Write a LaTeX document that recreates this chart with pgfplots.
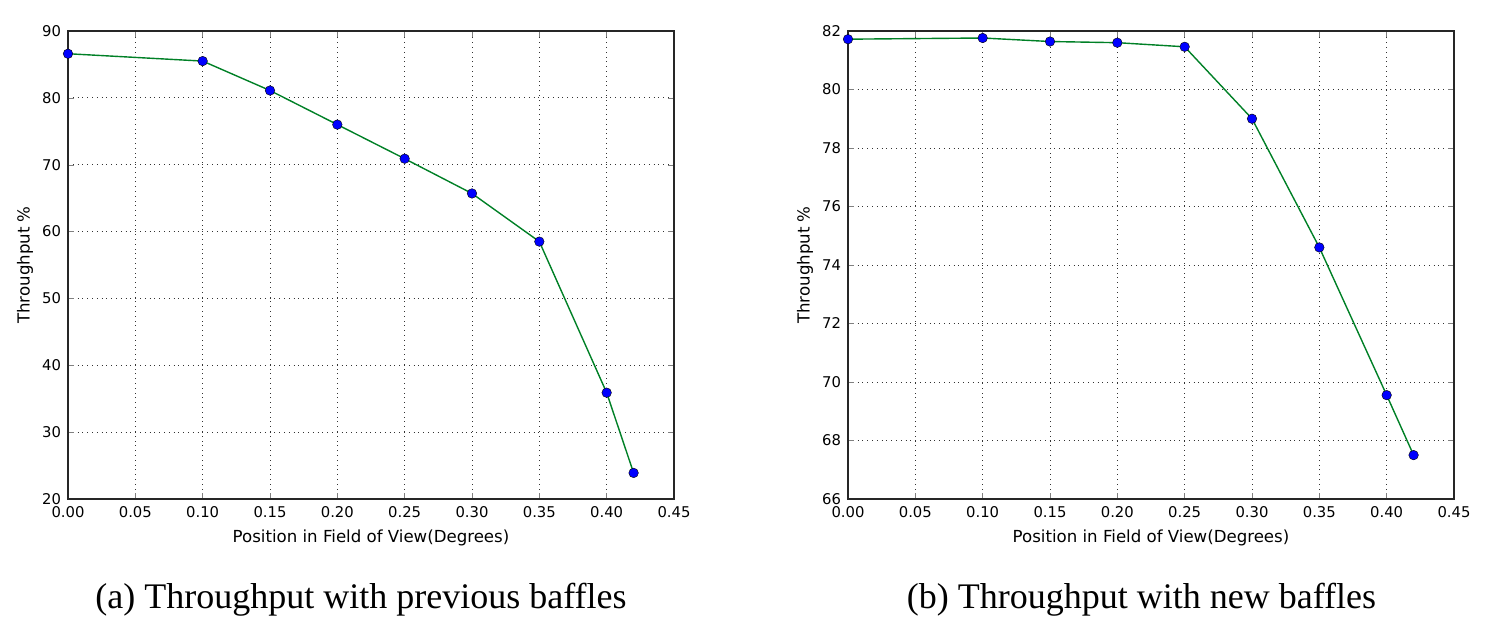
\documentclass[border=0pt]{standalone}
\usepackage{pgfplots}
\pgfplotsset{compat=1.18}
\usepackage{fontspec}
\setmainfont{DejaVu Sans}
\newfontfamily\capfont{Liberation Serif}
\definecolor{mplgreen}{rgb}{0,0.5,0.15}
\pgfplotsset{
  myax/.style={
    scale only axis, width=303pt, height=234pt,
    xmin=0, xmax=0.45, xtick={0,0.05,...,0.45},
    /pgf/number format/assume math mode=true,
    xticklabel style={/pgf/number format/fixed, /pgf/number format/fixed zerofill, /pgf/number format/precision=2},
    yticklabel style={/pgf/number format/fixed},
    tick label style={font=\fontsize{7.4}{8}\selectfont},
    grid=major, major grid style={black!80, dotted, line width=0.4pt},
    tick align=inside, major tick length=3pt,
    axis line style={black!85, line width=0.7pt},
    xlabel={Position in Field of View(Degrees)}, ylabel={Throughput \%},
    every axis x label/.style={at={(axis description cs:0.5,0)}, anchor=center, yshift=-19.5pt, font=\fontsize{8.3}{9}\selectfont},
    every axis y label/.style={at={(axis description cs:-0.071,0.5)}, rotate=90, anchor=center, font=\fontsize{8.3}{9}\selectfont},
  },
  myplot/.style={mplgreen, line width=0.7pt, mark=*, mark size=2.4pt, mark options={fill=blue, draw=black, line width=0.2pt}},
}
\begin{document}
\begin{tikzpicture}
\useasboundingbox (-34pt,-62.5pt) rectangle (710.5pt,249.5pt);
\begin{axis}[myax, at={(0,0)}, anchor=south west, ymin=20, ymax=90, ytick={20,30,...,90}]
\addplot[myplot] coordinates {(0,86.6) (0.10,85.5) (0.15,81.1) (0.20,76.0) (0.25,70.9) (0.30,65.7) (0.35,58.5) (0.40,35.9) (0.42,23.9)};
\end{axis}
\begin{axis}[myax, at={(390pt,0)}, anchor=south west, ymin=66, ymax=82, ytick={66,68,...,82}]
\addplot[myplot] coordinates {(0,81.72) (0.10,81.76) (0.15,81.64) (0.20,81.60) (0.25,81.46) (0.30,79.0) (0.35,74.6) (0.40,69.55) (0.42,67.5)};
\end{axis}
\node[font=\capfont\fontsize{18}{20}\selectfont] at (146.5pt,-50.5pt) {(a) Throughput with previous baffles};
\node[font=\capfont\fontsize{18}{20}\selectfont] at (536.75pt,-50.5pt) {(b) Throughput with new baffles};
\end{tikzpicture}
\end{document}
